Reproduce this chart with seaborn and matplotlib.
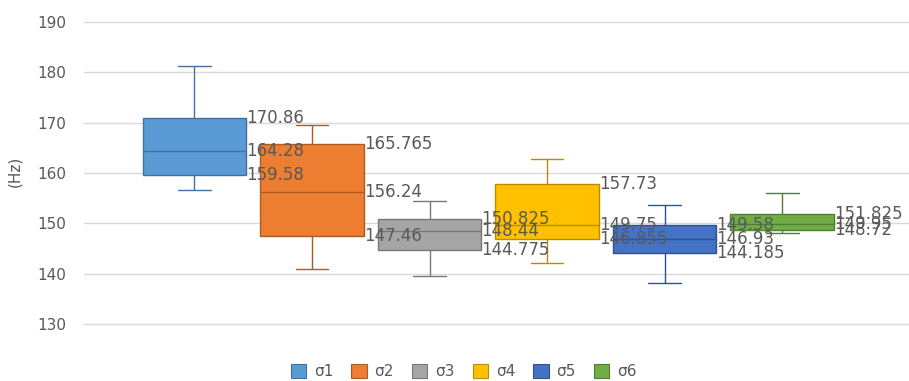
import numpy as np
import pandas as pd
import matplotlib
matplotlib.use("Agg")
import matplotlib.pyplot as plt
from matplotlib.patches import Patch
import seaborn as sns

# Five-number summaries of each series (Hz)
series = ["σ1", "σ2", "σ3", "σ4", "σ5", "σ6"]
whisker_low = [156.6, 140.9, 139.5, 142.1, 138.1, 148.0]
q1 = [159.58, 147.46, 144.775, 146.855, 144.185, 148.72]
median = [164.28, 156.24, 148.44, 149.75, 146.93, 149.95]
q3 = [170.86, 165.765, 150.825, 157.73, 149.58, 151.825]
whisker_high = [181.2, 169.5, 154.4, 162.8, 153.6, 156.0]

fill_colors = ["#5B9BD5", "#ED7D31", "#A5A5A5", "#FFC000", "#4472C4", "#70AD47"]
edge_colors = ["#41719C", "#AE5A21", "#787878", "#BC8C00", "#2F528F", "#507E32"]
y_ticks = [130, 140, 150, 160, 170, 180, 190]

# Long-form table: each series holds its five summary points, so the
# quartiles and whisker ends computed by seaborn are exactly these values.
rows = []
for i, name in enumerate(series):
    for v in (whisker_low[i], q1[i], median[i], q3[i], whisker_high[i]):
        rows.append({"series": name, "value": v})
df = pd.DataFrame(rows)

sns.set_theme(style="white")
plt.rcParams["font.family"] = ["DejaVu Sans"]

fig = plt.figure(figsize=(9.09, 3.81), dpi=100)
ax = fig.add_axes([0.0924, 0.150, 0.9076, 0.792])

box_width = 0.88
sns.boxplot(
    data=df, x="series", y="value", hue="series", order=series, hue_order=series,
    palette=fill_colors, saturation=1, width=box_width, whis=(0, 100),
    showfliers=False, linewidth=1.0, legend=False, ax=ax, capwidths=0.28,
)

# Per-series outline colours for boxes, whiskers, caps and medians
for cont, ec in zip(ax.containers, edge_colors):
    for art in list(cont.boxes):
        art.set_edgecolor(ec)
        art.set_linewidth(1.0)
    for art in list(cont.whiskers) + list(cont.caps) + list(cont.medians):
        art.set_color(ec)
        art.set_linewidth(1.0)

# Value labels to the right of each box
label_color = "#595959"
for i in range(len(series)):
    x_txt = i + box_width / 2 + 0.003
    for v in (q3[i], median[i], q1[i]):
        ax.text(x_txt, v, f"{v:g}", ha="left", va="center", fontsize=12,
                color=label_color, zorder=10)

ax.set_ylim(130, 190)
ax.set_xlim(-0.94, 6.08)
ax.set_yticks(y_ticks)
ax.set_yticklabels([str(t) for t in y_ticks], fontsize=11, color=label_color)
ax.set_xticks([])
ax.set_xlabel("")
ax.set_ylabel("")
ax.grid(axis="y", color="#D9D9D9", linewidth=1.0)
ax.set_axisbelow(True)
for gl in ax.get_ygridlines():
    gl.set_clip_on(False)
for s in ax.spines.values():
    s.set_visible(False)
ax.tick_params(axis="y", length=0, pad=13)

fig.text(0.016, 0.55, "(Hz)", rotation=90, ha="center", va="center",
         fontsize=11, color=label_color)

handles = [Patch(facecolor=fc, edgecolor=ec, linewidth=0.8)
           for fc, ec in zip(fill_colors, edge_colors)]
fig.legend(handles, series, loc="center", bbox_to_anchor=(0.51, 0.025),
           ncol=6, frameon=False, fontsize=11, handlelength=1.0, handleheight=1.0,
           handletextpad=0.5, columnspacing=1.2, labelcolor=label_color)

fig.savefig("out.png", dpi=100, facecolor="white")
